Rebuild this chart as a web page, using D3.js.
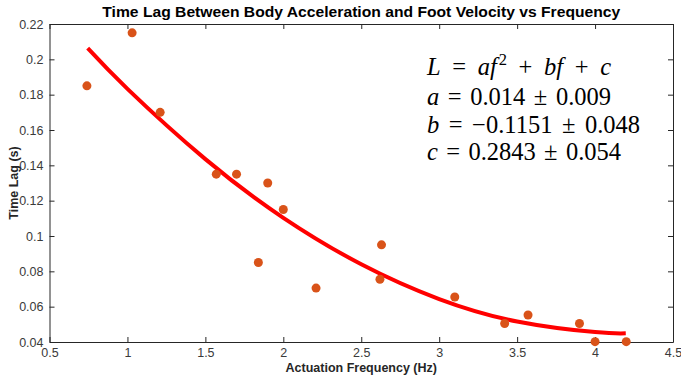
<!DOCTYPE html>
<html>
<head>
<meta charset="utf-8">
<script src="https://cdn.jsdelivr.net/npm/d3@7"></script>
<style>
  html, body { margin: 0; padding: 0; background: #fff; }
  svg { display: block; }
</style>
</head>
<body>
<svg id="chart" width="681" height="375"></svg>
<script>
// ---- data ----
const freqs = [0.74, 1.03, 1.21, 1.57, 1.70, 1.90, 1.84, 2.00, 2.21, 2.63, 2.62, 3.10, 3.42, 3.57, 3.90, 4.00, 4.20];
const lags  = [0.185, 0.215, 0.170, 0.135, 0.135, 0.130, 0.085, 0.115, 0.0705, 0.095, 0.0755, 0.0655, 0.0505, 0.0553, 0.0505, 0.0402, 0.0402];
// fitted curve
const fitF  = [0.745, 1.0, 1.5, 2.0, 2.5, 3.0, 3.5, 4.0, 4.197];
const fitL  = [0.2063, 0.1833, 0.1435, 0.1103, 0.0840, 0.0643, 0.0516, 0.0456, 0.0449];
const xTicks = [0.5, 1, 1.5, 2, 2.5, 3, 3.5, 4, 4.5];
const yTicks = [0.04, 0.06, 0.08, 0.1, 0.12, 0.14, 0.16, 0.18, 0.2, 0.22];
const titleText = "Time Lag Between Body Acceleration and Foot Velocity vs Frequency";
const xLabelText = "Actuation Frequency (Hz)";
const yLabelText = "Time Lag (s)";

const svg = d3.select("#chart");
const L = 49.5, R = 673, T = 24, B = 342;
const x = d3.scaleLinear().domain([0.5, 4.5]).range([L, R]);
const y = d3.scaleLinear().domain([0.04, 0.22]).range([B, T]);
const axisColor = "#262626";
const font = "'Liberation Sans', Arial, sans-serif";

function styleAxis(g) {
  g.selectAll("path.domain").attr("stroke", axisColor).attr("stroke-width", 1);
  g.selectAll(".tick line").attr("stroke", axisColor);
  g.selectAll("text").attr("fill", "#3a3a3a").attr("font-family", font).attr("font-size", 12.5);
}
const fmt = d => String(+d.toFixed(2));
svg.append("g").attr("transform", `translate(0,${B})`)
  .call(d3.axisBottom(x).tickValues(xTicks).tickFormat(fmt).tickSizeInner(-5).tickSizeOuter(0).tickPadding(6))
  .call(styleAxis);
svg.append("g").attr("transform", `translate(0,${T})`)
  .call(d3.axisTop(x).tickValues(xTicks).tickFormat("").tickSizeInner(-5).tickSizeOuter(0))
  .call(styleAxis);
svg.append("g").attr("transform", `translate(${L},0)`)
  .call(d3.axisLeft(y).tickValues(yTicks).tickFormat(fmt).tickSizeInner(-5).tickSizeOuter(0).tickPadding(6))
  .call(styleAxis);
svg.append("g").attr("transform", `translate(${R},0)`)
  .call(d3.axisRight(y).tickValues(yTicks).tickFormat("").tickSizeInner(-5).tickSizeOuter(0))
  .call(styleAxis);

// fit curve
const fitData = fitF.map((f, i) => [f, fitL[i]]);
svg.append("path")
  .datum(fitData)
  .attr("fill", "none")
  .attr("stroke", "#ff0000")
  .attr("stroke-width", 4)
  .attr("d", d3.line().x(d => x(d[0])).y(d => y(d[1])).curve(d3.curveNatural));

// points
svg.append("g").selectAll("circle")
  .data(freqs.map((f, i) => [f, lags[i]]))
  .join("circle")
  .attr("cx", d => x(d[0]))
  .attr("cy", d => y(d[1]))
  .attr("r", 4.5)
  .attr("fill", "#D95319");

// title & labels
svg.append("text").attr("x", (L + R) / 2).attr("y", 17)
  .attr("text-anchor", "middle").attr("font-family", font).attr("font-weight", "bold")
  .attr("font-size", 15).attr("textLength", 518).attr("lengthAdjust", "spacingAndGlyphs")
  .attr("fill", "#000").text(titleText);
svg.append("text").attr("x", (L + R) / 2).attr("y", 372)
  .attr("text-anchor", "middle").attr("font-family", font).attr("font-weight", "bold")
  .attr("font-size", 12.5).attr("fill", "#262626").text(xLabelText);
svg.append("text").attr("transform", `translate(18,${(T + B) / 2}) rotate(-90)`)
  .attr("text-anchor", "middle").attr("font-family", font).attr("font-weight", "bold")
  .attr("font-size", 12.5).attr("fill", "#262626").text(yLabelText);

// equation annotation: tokens [text, italic, kind]; "|" = math space gap
const eqLines = [
  [["L", 1], "|", ["=", 0], "|", ["af", 1], ["2", 0, "sup"], "|", ["+", 0], "|", ["bf", 1], "|", ["+", 0], "|", ["c", 1]],
  [["a", 1], "|", ["=", 0], "|", ["0.014", 0], "|", ["±", 0], "|", ["0.009", 0]],
  [["b", 1], "|", ["=", 0], "|", ["−0.1151", 0], "|", ["±", 0], "|", ["0.048", 0]],
  [["c", 1], "|", ["=", 0], "|", ["0.2843", 0], "|", ["±", 0], "|", ["0.054", 0]]
];
const eqY = [75, 105, 132.5, 160];
const eqW = [184, 186, 215, 196];
const eq = svg.append("g").attr("font-family", "'Liberation Serif', 'Times New Roman', serif")
  .attr("font-size", 24.5).attr("fill", "#000");
eqLines.forEach((parts, i) => {
  const t = eq.append("text").attr("x", 427).attr("y", eqY[i]);
  const spans = [];
  let gapBefore = false, afterSup = false, nGaps = 0;
  parts.forEach(p => {
    if (p === "|") { gapBefore = true; nGaps++; return; }
    const s = t.append("tspan").text(p[0]).attr("font-style", p[1] ? "italic" : "normal");
    let dy = 0;
    if (p[2] === "sup") { s.attr("font-size", 16.5).attr("dx", 2); dy = -10; }
    else if (afterSup) dy = 10;
    if (dy) s.attr("dy", dy);
    spans.push({ s, gapBefore });
    afterSup = p[2] === "sup";
    gapBefore = false;
  });
  const natural = t.node().getComputedTextLength() + 2;
  const gap = Math.max(0, (eqW[i] - natural) / nGaps);
  spans.forEach(o => { if (o.gapBefore) o.s.attr("dx", gap); });
});
</script>
</body>
</html>
